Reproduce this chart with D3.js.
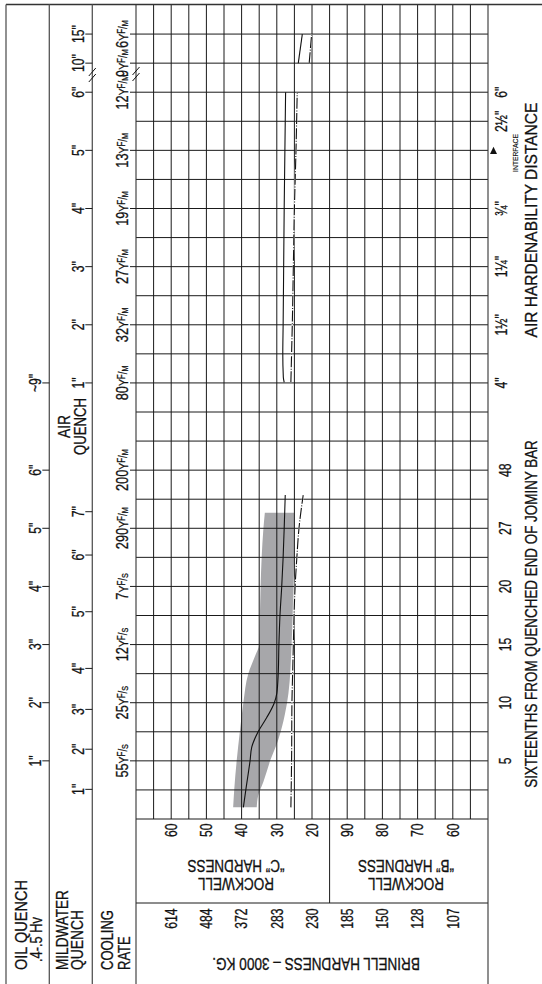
<!DOCTYPE html>
<html><head><meta charset="utf-8">
<script src="https://cdn.jsdelivr.net/npm/d3@7"></script>
<style>
html,body{margin:0;padding:0;background:#fff;}
svg{display:block;}
text{font-family:"Liberation Sans",Arial,sans-serif;fill:#111;stroke:#111;stroke-width:0.3px;}
</style></head><body>
<svg id="chart" width="542" height="984"></svg>
<script>
// ---------------- DATA ----------------
const hrcTicks = [60, 50, 40, 30, 20];
const hrbTicks = [90, 80, 70, 60];
const brinellTicks = ["614", "484", "372", "283", "230", "185", "150", "128", "107"];
const jominyTicks = [5, 10, 15, 20, 27, 48];
// Jominy distance (sixteenths) -> chart grid row
const jominyBreaks = [0, 20, 27, 48];
const jominyRows = [0, 8, 10, 12];
const airDistanceLabels = ['4"', '1½"', '1¼"', '¾"', '2½"', '6"'];
const airDistanceRows = [15, 17, 19, 21, 24, 25];
const interfaceRow = 23;
const coolingRateValues = ["55", "25", "12", "7", "290", "200", "80", "32", "27", "19", "13", "12", "9", "6"];
const coolingRateUnits = ["S", "S", "S", "S", "M", "M", "M", "M", "M", "M", "M", "M", "M", "M"];
const coolingRateRows = [2, 4, 6, 8, 10, 12, 15, 17, 19, 21, 23, 25, 26, 27];
const oilQuenchLabels = ['1"', '2"', '3"', '4"', '5"', '6"', '~9"'];
const oilQuenchRows = [2, 4, 6, 8, 10, 12, 15];
const waterQuenchLabels = ['1"', '2"', '3"', '4"', '5"', '6"', '7"'];
const waterQuenchRows = [1.02, 2.4, 3.77, 5.18, 7.13, 9.08, 10.57];
const airQuenchLabels = ['1"', '2"', '3"', '4"', '5"', '6"', '10"', '15"'];
const airQuenchRows = [15, 17, 19, 21, 23, 25, 26, 27];

// Jominy hardness band (HRC) vs sixteenths
const bandHighJ = [1, 2.5, 5, 7.5, 10, 12.5, 14, 15, 17.5, 20, 23.5, 27, 32.6];
const bandHighHRC = [42.4, 42.1, 41.4, 40.5, 39.5, 38.1, 36.2, 35.0, 34.8, 34.6, 34.3, 33.8, 33.4];
const bandLowJ = [1, 2, 3.2, 5, 6.8, 9, 10.8, 15, 20, 23.5, 32.6];
const bandLowHRC = [35.7, 35.3, 33.8, 31.9, 29.6, 27.7, 26.7, 25.8, 25.3, 25.1, 25.1];
// mean curve
const meanJ = [1, 2.5, 5, 6.2, 7.5, 8.7, 10, 10.8, 12.5, 15, 17.5, 20, 23.5, 27, 39];
const meanHRC = [39.5, 38.8, 37.6, 37.1, 35.3, 32.9, 30.7, 30.0, 29.6, 29.4, 29.1, 28.6, 28.2, 27.9, 27.6];
// dash-dot curve
const dashJ = [1, 5, 10, 12.5, 15, 17.5, 20, 23.5, 27, 39];
const dashHRC = [26.0, 25.8, 25.7, 25.5, 25.3, 25.1, 24.8, 24.3, 23.7, 22.5];
// air hardenability section (grid rows)
const airMeanRows = [15.02, 15.2, 16, 17, 19, 21, 23, 25];
const airMeanHRC = [27.9, 28.15, 28.3, 28.2, 28.05, 27.9, 27.7, 27.5];
const airDashRows = [15.02, 16, 17, 19, 21, 23, 25];
const airDashHRC = [26.0, 25.8, 25.6, 25.3, 25.0, 24.55, 24.2];
const farMeanRows = [26, 27];
const farMeanHRC = [23.9, 22.75];
const farDashRows = [26, 27];
const farDashHRC = [20.8, 20.1];

// ---------------- LAYOUT ----------------
const L = {left: 6, c1: 49.3, c2: 92.3, gx0: 136, gx1: 488, top: 4.5, gy0: 5, gy1: 819, rockY: 903, bottom: 984, right: 542};
const svg = d3.select("#chart");
const col = d3.scaleLinear().domain([0, 20]).range([L.gx0, L.gx1]);
const row = d3.scaleLinear().domain([0, 28]).range([L.gy1, L.gy0]);
const xHRC = d3.scaleLinear().domain([70, 20]).range([col(0), col(10)]);
const xHRB = d3.scaleLinear().domain([100, 50]).range([col(10), col(20)]);
const jRow = d3.scaleLinear().domain(jominyBreaks).range(jominyRows);
const yJ = j => row(jRow(j));
const FS = 16, SX = 0.76;

function vt(x, y, str, o = {}) {
  const fs = o.size || FS;
  const t = svg.append("text")
    .attr("text-anchor", o.anchor || "middle")
    .attr("font-size", fs);
  if (o.thin) t.style("stroke-width", "0.15px");
  if (str != null) t.text(str);
  let sx = o.sx || SX;
  if (o.len) sx = o.len / t.node().getComputedTextLength();
  t.attr("transform", `translate(${x},${y}) rotate(-90) scale(${sx},1)`);
  return {t, sx};
}
function ut(x, y, str, len) { // upside-down text
  const t = svg.append("text").attr("text-anchor", "middle").attr("font-size", FS).text(str);
  const sx = len ? len / t.node().getComputedTextLength() : SX;
  t.attr("transform", `translate(${x},${y}) rotate(180) scale(${sx},1)`);
  return t;
}
function ln(x1, y1, x2, y2, c = "#1a1a1a", w = 1) {
  svg.append("line").attr("x1", x1).attr("y1", y1).attr("x2", x2).attr("y2", y2)
    .attr("stroke", c).attr("stroke-width", w);
}

// ---------------- BAND ----------------
const edge = d3.line().curve(d3.curveMonotoneY);
const hiPts = bandHighJ.map((j, i) => [xHRC(bandHighHRC[i]), yJ(j)]);
const loPts = bandLowJ.map((j, i) => [xHRC(bandLowHRC[i]), yJ(j)]).reverse();
svg.append("path")
  .attr("d", edge(hiPts) + edge(loPts).replace(/^M/, "L") + "Z")
  .attr("fill", "#a7a7aa");

// ---------------- GRID ----------------
d3.range(1, 28).forEach(k => ln(col(0), row(k), col(20), row(k)));
ln(col(0), row(0), col(20), row(0));
d3.range(1, 20).forEach(c => ln(col(c), row(28), col(c), row(0)));
ln(col(11), row(0), col(11), L.rockY);
ln(col(0), L.rockY, col(20), L.rockY);
// frame
ln(L.left, L.top, L.right, L.top, "#333", 1.3);
[L.left, L.c1, L.c2].forEach(x => ln(x, L.top, x, L.bottom, "#555", 1.3));
[col(0), col(20)].forEach(x => ln(x, L.top, x, L.bottom, "#333", 1.1));

// ---------------- CURVES ----------------
const lineJ = d3.line().x(d => xHRC(d[1])).y(d => yJ(d[0])).curve(d3.curveMonotoneY);
const lineR = d3.line().x(d => xHRC(d[1])).y(d => row(d[0])).curve(d3.curveMonotoneY);
function solid(d) {
  svg.append("path").attr("d", d).attr("fill", "none").attr("stroke", "#111").attr("stroke-width", 1.1);
}
function dashdot(d) {
  svg.append("path").attr("d", d).attr("fill", "none").attr("stroke", "#fff").attr("stroke-width", 1.4);
  svg.append("path").attr("d", d).attr("fill", "none").attr("stroke", "#111").attr("stroke-width", 1.1)
    .attr("stroke-dasharray", "11 1.6 1 1.6");
}
solid(lineJ(meanJ.map((j, i) => [j, meanHRC[i]])));
dashdot(lineJ(dashJ.map((j, i) => [j, dashHRC[i]])));
solid(lineR(airMeanRows.map((r, i) => [r, airMeanHRC[i]])));
dashdot(lineR(airDashRows.map((r, i) => [r, airDashHRC[i]])));
solid(lineR(farMeanRows.map((r, i) => [r, farMeanHRC[i]])));
dashdot(lineR(farDashRows.map((r, i) => [r, farDashHRC[i]])));

// ---------------- HARDNESS SCALES ----------------
const capOff = 0.36 * FS;
hrcTicks.forEach(v => vt(xHRC(v) + capOff, L.gy1 + 4.5, String(v), {anchor: "end"}));
hrbTicks.forEach(v => vt(xHRB(v) + capOff, L.gy1 + 4.5, String(v), {anchor: "end"}));
const brinellPos = hrcTicks.map(v => xHRC(v)).concat(hrbTicks.map(v => xHRB(v)));
brinellTicks.forEach((s, i) => vt(brinellPos[i] + capOff, L.rockY + 5.5, s, {anchor: "end"}));
const cMid = 236, bMid = 406;
ut(cMid, 878, "ROCKWELL", 76);
ut(cMid, 860, "\u201CC\u201D HARDNESS", 97);
ut(bMid, 878, "ROCKWELL", 76);
ut(bMid, 860, "\u201CB\u201D HARDNESS", 96);
ut(316, 958, "BRINELL HARDNESS \u2013 3000 KG.", 208);

// ---------------- LEFT COLUMNS ----------------
oilQuenchRows.forEach((r, i) => {
  ln(L.c1 - 7, row(r), L.c1, row(r));
  vt(40.5, row(r), oilQuenchLabels[i]);
});
waterQuenchRows.forEach((r, i) => {
  ln(L.c2 - 7, row(r), L.c2, row(r));
  vt(83.5, row(r), waterQuenchLabels[i]);
});
airQuenchRows.forEach((r, i) => {
  ln(L.c2 - 7, row(r), L.c2, row(r));
  vt(83.5, row(r), airQuenchLabels[i]);
});
coolingRateRows.forEach((r, i) => {
  ln(col(0) - 6, row(r), col(0), row(r));
  const {t} = vt(128, row(r), null, {sx: 0.8});
  t.append("tspan").text(coolingRateValues[i]);
  t.append("tspan").attr("font-size", 13).text("Y");
  t.append("tspan").attr("font-size", 10).attr("dy", -3).text("F");
  t.append("tspan").attr("font-size", 12).attr("dy", 2).text("/");
  t.append("tspan").attr("font-size", 9).attr("dy", 1).text(coolingRateUnits[i]);
});
vt(70, 426.5, "AIR", {len: 23});
vt(86, 426.5, "QUENCH", {len: 57});
vt(26.7, 970, "OIL QUENCH", {anchor: "start", len: 90});
vt(41.7, 962, ".4-.5 Hv", {anchor: "start", len: 45});
vt(68.3, 970, "MILDWATER", {anchor: "start", len: 80});
vt(83.3, 970, "QUENCH", {anchor: "start", len: 60});
const cool = vt(113.3, 970, "COOLING", {anchor: "start", len: 60});
vt(129.5, 970, "RATE", {anchor: "start", sx: cool.sx});
// break marks
[[L.c2, 75], [col(0), 74]].forEach(([x, y]) => {
  [-3, 3].forEach(o => ln(x - 3.5, y + o + 4, x + 3.5, y + o - 4, "#111", 1));
});

// ---------------- RIGHT SIDE ----------------
jominyTicks.forEach(j => vt(510.5, yJ(j), String(j)));
airDistanceLabels.forEach((s, i) => vt(507, row(airDistanceRows[i]), s));
const ty = row(interfaceRow);
svg.append("path")
  .attr("d", d3.line()([[490, ty + 3.7], [497, ty + 3.7], [493.5, ty - 3.7]]) + "Z")
  .attr("fill", "#111");
vt(518, 153, "INTERFACE", {size: 8, len: 38, thin: true});
vt(537, 614, "SIXTEENTHS FROM QUENCHED END OF JOMINY BAR", {len: 348});
vt(537, 220, "AIR HARDENABILITY DISTANCE", {len: 235});
</script>
</body></html>
